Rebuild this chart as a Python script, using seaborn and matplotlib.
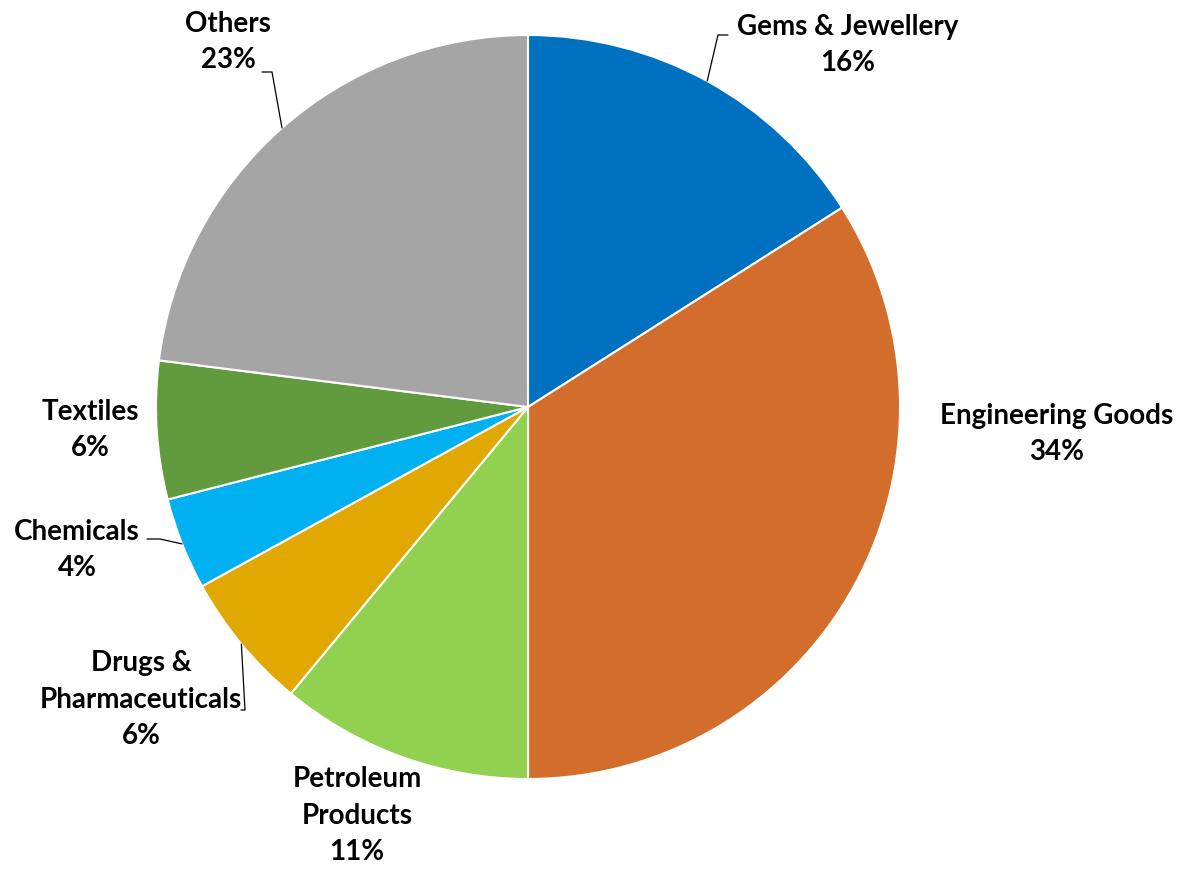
import numpy as np
import matplotlib
matplotlib.use("Agg")
import matplotlib.pyplot as plt
import seaborn as sns

categories = ["Gems & Jewellery", "Engineering Goods", "Petroleum\nProducts",
              "Drugs &\nPharmaceuticals", "Chemicals", "Textiles", "Others"]
shares = [16, 34, 11, 6, 4, 6, 23]
colors = ["#0070C0", "#D36D2C", "#92D050", "#E0A800", "#00B0F0", "#629A3E", "#A5A5A5"]

sns.set_theme(style="white")
plt.rcParams["font.family"] = ["Lato", "DejaVu Sans"]

W, H = 1184, 872
fig = plt.figure(figsize=(W / 100, H / 100), dpi=100)
ax = fig.add_axes([0, 0, 1, 1])

wedges, _ = ax.pie(shares, colors=sns.color_palette(colors), startangle=90,
                   counterclock=False, radius=1.0,
                   wedgeprops=dict(edgecolor="white", linewidth=1.5))

# layout: pie centre in px and radius in px
cx, cy, R = 528, 407, 372
ax.set_xlim(-cx / R, (W - cx) / R)
ax.set_ylim(-(H - cy) / R, cy / R)
ax.set_aspect("equal")
ax.axis("off")

def px(x, y):
    return ((x - cx) / R, (cy - y) / R)

# label block centres (layout, px) and optional leader elbows (px)
label_pos = [px(848, 45), px(1057, 434), px(357, 816), px(141, 700),
             px(77, 550), px(90, 430), px(228, 42)]
leaders = {0: [px(718, 35), px(728, 35)],
           6: [px(272, 72), px(262, 72)],
           4: [px(160, 539), px(147, 539)],
           3: [px(245, 710), px(241, 710)]}

total = sum(shares)
cum = np.cumsum([0] + shares)
for i, (cat, v) in enumerate(zip(categories, shares)):
    mid = (cum[i] + v / 2) / total * 360.0
    theta = np.deg2rad(90 - mid)
    ex, ey = np.cos(theta), np.sin(theta)
    lx, ly = label_pos[i]
    ax.text(lx, ly, f"{cat}\n{v / total * 100:.0f}%", ha="center", va="center",
            fontsize=20, fontweight="bold", color="black", linespacing=1.5)
    if i in leaders:
        pts = [(ex, ey)] + leaders[i]
        ax.plot([p[0] for p in pts], [p[1] for p in pts], color="black", lw=0.9)

fig.savefig("out.png", dpi=100)
